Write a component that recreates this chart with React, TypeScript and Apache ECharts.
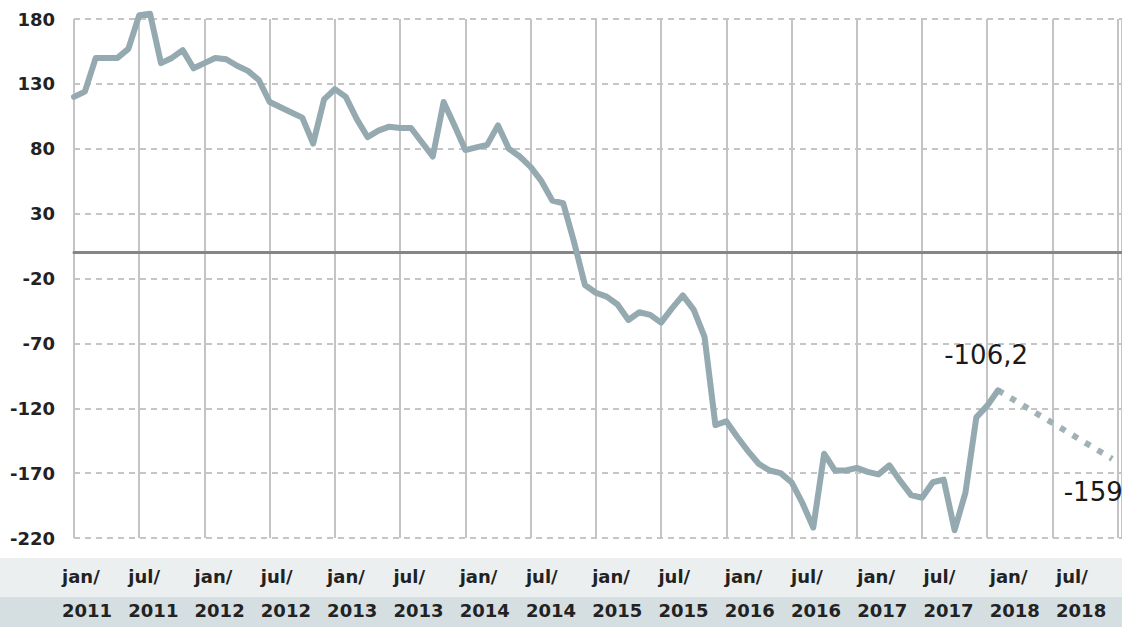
import React, { useEffect, useRef } from "react";
import * as echarts from "echarts";

// Monthly balance, jan/2011 (index 0) .. feb/2018 (index 85)
const balance: number[] = [
  120, 124, 150, 150, 150, 157, 183, 184, 146, 150, 156, 142, // 2011
  146, 150, 149, 144, 140, 133, 116, 112, 108, 104, 84, 118, // 2012
  126, 120, 103, 89, 94, 97, 96, 96, 85, 74, 116, 98, // 2013
  79, 81, 83, 98, 80, 74, 66, 55, 40, 38, 8, -25, // 2014
  -31, -34, -40, -52, -46, -48, -54, -43, -33, -44, -65, -133, // 2015
  -130, -142, -153, -163, -168, -170, -177, -193, -212, -155, -168, -168, // 2016
  -166, -169, -171, -164, -176, -187, -189, -177, -175, -214, -185, -127, // 2017
  -118, -106.2, // 2018
];

// Forecast (dotted): months since jan/2011 and values
const forecastMonths: number[] = [85, 95.5];
const forecastValues: number[] = [-106.2, -159];

const lastLabel = "-106,2";
const forecastLabel = "-159";

const periodLabels: string[] = [
  "jan/", "jul/", "jan/", "jul/", "jan/", "jul/", "jan/", "jul/",
  "jan/", "jul/", "jan/", "jul/", "jan/", "jul/", "jan/", "jul/",
];
const yearLabels: string[] = [
  "2011", "2011", "2012", "2012", "2013", "2013", "2014", "2014",
  "2015", "2015", "2016", "2016", "2017", "2017", "2018", "2018",
];

const yMin = -220;
const yMax = 180;
const yStep = 50;

export default function App() {
  const ref = useRef<HTMLDivElement>(null);

  useEffect(() => {
    if (!ref.current) return;
    const chart = echarts.init(ref.current, null, { renderer: "svg" });
    const font = "'DejaVu Sans', sans-serif";
    const cats = periodLabels.map((p, i) => p + "\n" + yearLabels[i]);

    chart.setOption({
      animation: false,
      backgroundColor: "#ffffff",
      graphic: [
        {
          type: "rect",
          z: -10,
          shape: { x: 0, y: 558, width: 1122, height: 39 },
          style: { fill: "#eceff0" },
        },
        {
          type: "rect",
          z: -10,
          shape: { x: 0, y: 597, width: 1122, height: 30 },
          style: { fill: "#d5dfe2" },
        },
      ],
      grid: [
        { left: 74, right: 0, top: 19, bottom: 89 },
        { left: 28.9, right: 32.8, top: 540, height: 22 },
      ],
      xAxis: [
        {
          type: "value",
          gridIndex: 0,
          min: 0,
          max: 96.4,
          interval: 6,
          axisLabel: { show: false },
          axisTick: { show: false },
          axisLine: {
            show: true,
            onZero: true,
            lineStyle: { color: "#858585", width: 3 },
          },
          splitLine: {
            show: true,
            lineStyle: { color: "#c4c4c4", width: 2 },
          },
        },
        {
          type: "category",
          gridIndex: 1,
          z: 10,
          data: cats,
          boundaryGap: true,
          axisLine: { show: false },
          axisTick: { show: false },
          splitLine: { show: false },
          axisLabel: {
            interval: 0,
            align: "left",
            margin: 0,
            lineHeight: 34,
            fontFamily: font,
            fontWeight: "bold",
            fontSize: 18,
            color: "#222222",
          },
        },
      ],
      yAxis: [
        {
          type: "value",
          gridIndex: 0,
          min: yMin,
          max: yMax,
          interval: yStep,
          axisLine: { show: false },
          axisTick: { show: false },
          axisLabel: {
            margin: 19,
            fontFamily: font,
            fontWeight: "bold",
            fontSize: 18,
            color: "#222222",
          },
          splitLine: {
            show: true,
            lineStyle: { type: [6, 5], color: "#b3b3b3", width: 1.5 },
          },
        },
        { type: "value", gridIndex: 1, show: false },
      ],
      series: [
        {
          type: "line",
          xAxisIndex: 0,
          yAxisIndex: 0,
          clip: false,
          data: balance.map((v, i) => [i, v]),
          showSymbol: false,
          symbol: "none",
          lineStyle: { color: "#94aab0", width: 6, cap: "round", join: "round" },
          z: 3,
          markPoint: {
            symbol: "circle",
            symbolSize: 0,
            label: {
              show: true,
              formatter: "{b}",
              offset: [-12, -35],
              fontFamily: font,
              fontSize: 26,
              color: "#1a1a1a",
            },
            data: [
              {
                name: lastLabel,
                coord: [balance.length - 1, balance[balance.length - 1]],
              },
            ],
          },
        },
        {
          type: "line",
          xAxisIndex: 0,
          yAxisIndex: 0,
          clip: false,
          data: forecastMonths.map((m, i) => [m, forecastValues[i]]),
          showSymbol: false,
          symbol: "none",
          lineStyle: { color: "#a0b2b5", width: 6, type: [6, 8.5] },
          z: 2,
          markPoint: {
            symbol: "circle",
            symbolSize: 0,
            label: {
              show: true,
              formatter: "{b}",
              offset: [-19, 33],
              fontFamily: font,
              fontSize: 26,
              color: "#1a1a1a",
            },
            data: [
              {
                name: forecastLabel,
                coord: [forecastMonths[1], forecastValues[1]],
              },
            ],
          },
        },
      ],
    });

    return () => chart.dispose();
  }, []);

  return (
    <div
      ref={ref}
      style={{
        position: "fixed",
        left: 0,
        top: 0,
        width: 1122,
        height: 627,
        background: "#ffffff",
      }}
    />
  );
}
